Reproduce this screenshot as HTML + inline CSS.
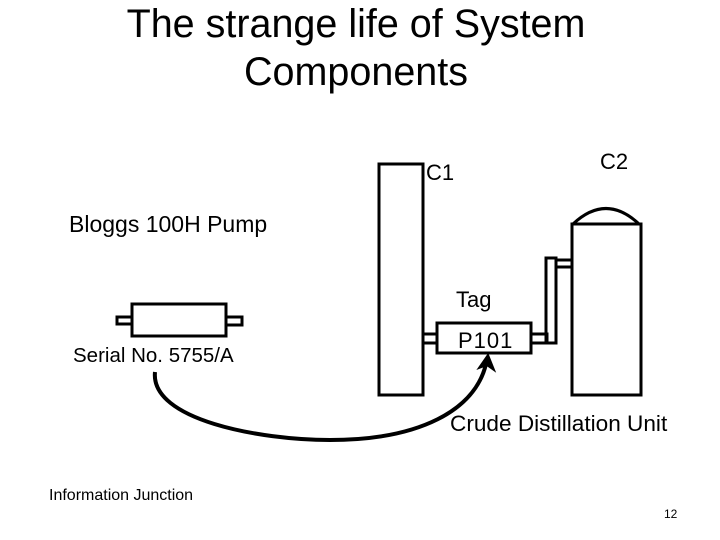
<!DOCTYPE html>
<html><head><style>
body{margin:0;width:720px;height:540px;background:#fff;overflow:hidden;font-family:"Liberation Sans",sans-serif;}
.t{position:absolute;color:#000;white-space:nowrap}
</style></head><body>
<div class="t" style="left:0;width:720px;top:0px;text-align:center;font-size:39.5px;line-height:48px;margin-left:-4px">The strange life of System<br>Components</div>
<div class="t" style="left:426px;top:160px;font-size:22px">C1</div>
<div class="t" style="left:600px;top:149px;font-size:22px">C2</div>
<div class="t" style="left:69px;top:211px;font-size:23px">Bloggs 100H Pump</div>
<div class="t" style="left:456px;top:287px;font-size:22px">Tag</div>
<div class="t" style="left:458px;top:328px;font-size:22px;letter-spacing:1px">P101</div>
<div class="t" style="left:73px;top:344px;font-size:20.5px">Serial No. 5755/A</div>
<div class="t" style="left:450px;top:411px;font-size:22.6px">Crude Distillation Unit</div>
<div class="t" style="left:49px;top:487px;font-size:16px">Information Junction</div>
<div class="t" style="left:664px;top:507px;font-size:12px">12</div>
<svg width="720" height="540" style="position:absolute;left:0;top:0" fill="none" stroke="#000" stroke-width="3">
<rect x="379" y="164" width="44" height="231"/>
<rect x="437" y="323" width="94" height="30"/>
<rect x="423" y="334" width="14" height="9"/>
<rect x="531" y="334" width="16" height="9"/>
<rect x="546" y="258" width="10" height="85"/>
<rect x="556" y="260" width="16" height="7"/>
<rect x="572" y="224" width="69" height="171"/>
<path d="M573 224 Q606 193 639 224"/>
<rect x="132" y="304" width="94" height="32"/>
<rect x="117" y="317" width="15" height="7"/>
<rect x="226" y="317" width="16" height="8"/>
<path d="M155 372 C150 420 260 440 330 440 C420 440 475 410 486 364" stroke-width="4"/>
<path d="M479 368 L488 355 L494 370 L487 365 Z" fill="#000" stroke-width="2"/>
</svg>
</body></html>
